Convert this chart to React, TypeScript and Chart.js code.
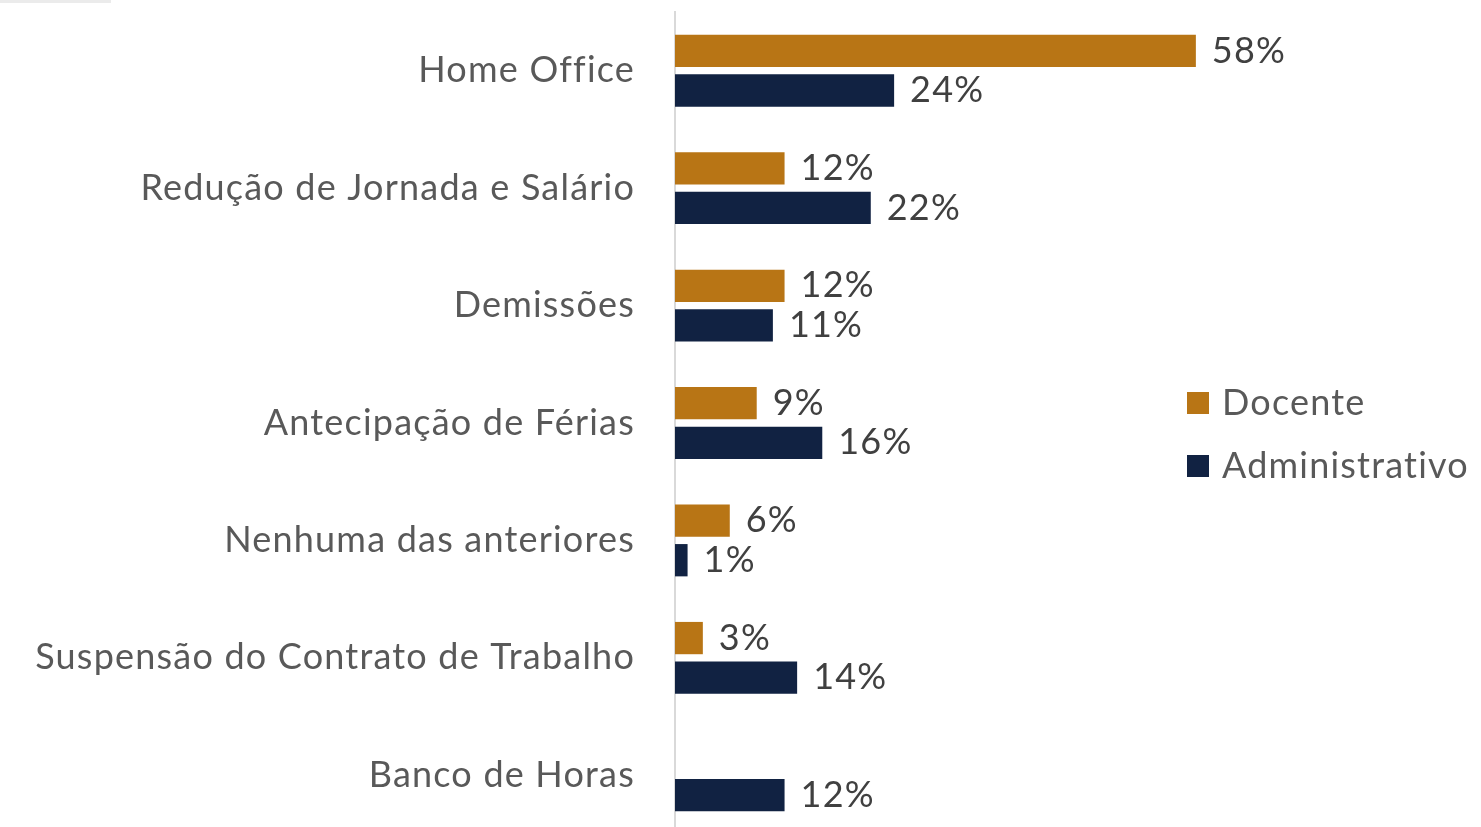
import React, { useEffect, useRef } from "react";
import { Chart, registerables } from "chart.js";

Chart.register(...registerables);

const categories = [
  "Home Office",
  "Redução de Jornada e Salário",
  "Demissões",
  "Antecipação de Férias",
  "Nenhuma das anteriores",
  "Suspensão do Contrato de Trabalho",
  "Banco de Horas",
];
const docente = [58, 12.2, 12.2, 9.1, 6.1, 3.1, null];
const administrativo = [24.4, 21.8, 10.9, 16.4, 1.4, 13.6, 12.2];
const seriesNames = ["Docente", "Administrativo"];
const seriesColors = ["#B87515", "#112242"];

const FONT = "Lato, 'Open Sans', sans-serif";
const SPACING = "1.2px";

const spacingPlugin = {
  id: "letterSpacing",
  beforeLayout(chart: any) {
    chart.ctx.letterSpacing = SPACING;
  },
  beforeDraw(chart: any) {
    chart.ctx.letterSpacing = SPACING;
  },
};

const dataLabelPlugin = {
  id: "dataLabels",
  afterDatasetsDraw(chart: any) {
    const ctx = chart.ctx;
    ctx.save();
    ctx.letterSpacing = SPACING;
    ctx.font = `36px ${FONT}`;
    ctx.fillStyle = "#404040";
    ctx.textAlign = "left";
    ctx.textBaseline = "middle";
    chart.data.datasets.forEach((ds: any, di: number) => {
      const meta = chart.getDatasetMeta(di);
      meta.data.forEach((bar: any, i: number) => {
        const v = ds.data[i];
        if (v === null || v === undefined) return;
        ctx.fillText(`${Math.round(v)}%`, bar.x + 16, bar.y);
      });
    });
    ctx.restore();
  },
};

const legendPlugin = {
  id: "customLegend",
  afterDraw(chart: any) {
    const ctx = chart.ctx;
    ctx.save();
    ctx.letterSpacing = SPACING;
    ctx.font = `36px ${FONT}`;
    ctx.textBaseline = "middle";
    ctx.textAlign = "left";
    const x = 1187;
    const rows = [403, 466];
    chart.data.datasets.forEach((ds: any, i: number) => {
      const y = rows[i];
      ctx.fillStyle = ds.backgroundColor;
      ctx.fillRect(x, y - 11, 22, 22);
      ctx.fillStyle = "#595959";
      ctx.fillText(ds.label, x + 35, y);
    });
    ctx.restore();
  },
};

export default function App() {
  const ref = useRef<HTMLCanvasElement | null>(null);
  useEffect(() => {
    if (!ref.current) return;
    const chart = new Chart(ref.current, {
      type: "bar",
      data: {
        labels: categories,
        datasets: [
          {
            label: seriesNames[0],
            data: docente,
            backgroundColor: seriesColors[0],
            barPercentage: 0.816,
            categoryPercentage: 0.674,
          },
          {
            label: seriesNames[1],
            data: administrativo,
            backgroundColor: seriesColors[1],
            barPercentage: 0.816,
            categoryPercentage: 0.674,
          },
        ],
      },
      options: {
        indexAxis: "y",
        responsive: false,
        animation: false,
        layout: { padding: { top: 12, bottom: 12, left: 0, right: 0 } },
        plugins: { legend: { display: false }, tooltip: { enabled: false } },
        scales: {
          x: { display: false, min: 0, max: 89.75 },
          y: {
            afterFit: (scale: any) => {
              scale.width = 675;
              scale.paddingTop = 0;
              scale.paddingBottom = 0;
            },
            grid: { display: false, drawTicks: false, tickLength: 0 },
            border: { display: true, color: "#D9D9D9", width: 2 },
            ticks: {
              padding: 40,
              color: "#595959",
              font: { family: FONT, size: 36 },
            },
          },
        },
      },
      plugins: [spacingPlugin, dataLabelPlugin, legendPlugin],
    });
    return () => chart.destroy();
  }, []);
  return (
    <div style={{ position: "fixed", left: 0, top: 0, width: 1481, height: 846, background: "#fff" }}>
      <div style={{ position: "absolute", left: 0, top: 0, width: 111, height: 3, background: "#EBEBEB" }} />
      <canvas ref={ref} width={1481} height={846} style={{ display: "block" }} />
    </div>
  );
}
